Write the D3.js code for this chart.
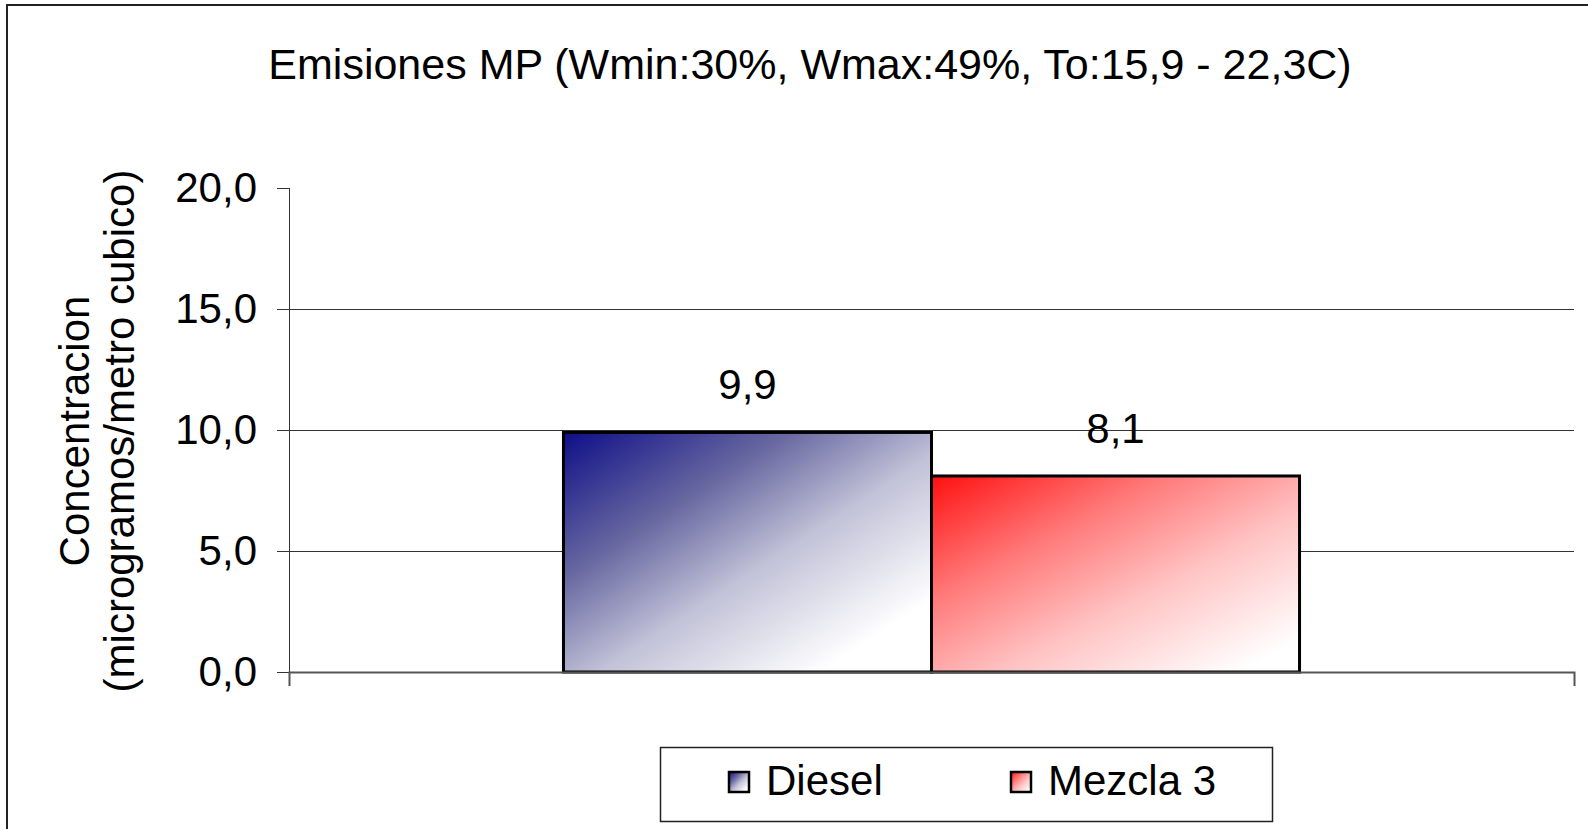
<!DOCTYPE html>
<html>
<head>
<meta charset="utf-8">
<script src="https://cdn.jsdelivr.net/npm/d3@7"></script>
<style>
  html, body { margin: 0; padding: 0; background: #fff; }
  svg { display: block; font-family: "Liberation Sans", Arial, sans-serif; }
</style>
</head>
<body>
<svg id="chart" width="1588" height="829"></svg>
<script>
// chart data
let categories = ["MP"];
let seriesNames = ["Diesel", "Mezcla 3"];
let seriesValues = [9.9, 8.1];
let yTicks = [0, 5, 10, 15, 20];
let title = "Emisiones MP (Wmin:30%, Wmax:49%, To:15,9 - 22,3C)";
let yLabel = ["Concentracion", "(microgramos/metro cubico)"];

let svg = d3.select("#chart");
let fmt = v => d3.format(".1f")(v).replace(".", ",");

// plot area
let plotL = 289, plotR = 1574, plotT = 188, plotB = 672;

let x = d3.scaleBand()
  .domain(categories)
  .range([plotL, plotR])
  .paddingInner(0.2716)
  .paddingOuter(0.2716);

let xs = d3.scaleBand()
  .domain(seriesNames)
  .range([0, x.bandwidth()]);

let y = d3.scaleLinear()
  .domain([0, 20])
  .range([plotB, plotT]);

// gradients (diagonal, dark corner top-left fading to white)
let defs = svg.append("defs");
let grads = [
  ["gDiesel", [[0, "#0e0e88"], [0.3, "#6666a0"], [0.55, "#c2c2d8"], [0.85, "#ffffff"], [1, "#ffffff"]]],
  ["gMezcla", [[0, "#ff1010"], [0.32, "#ff7a7a"], [0.6, "#ffc4c4"], [0.92, "#ffffff"], [1, "#ffffff"]]]
];
grads.forEach(function(g) {
  let lg = defs.append("linearGradient")
    .attr("id", g[0])
    .attr("x1", 0).attr("y1", 0).attr("x2", 1).attr("y2", 1);
  g[1].forEach(function(s) {
    lg.append("stop").attr("offset", s[0]).attr("stop-color", s[1]);
  });
});
let fills = ["url(#gDiesel)", "url(#gMezcla)"];

// outer frame
svg.append("rect")
  .attr("x", 7).attr("y", 5)
  .attr("width", 1600).attr("height", 840)
  .attr("fill", "none")
  .attr("stroke", "#222")
  .attr("stroke-width", 2);

// title
svg.append("text")
  .attr("x", 810).attr("y", 79)
  .attr("text-anchor", "middle")
  .attr("font-size", 43)
  .text(title);

// gridlines
svg.append("g")
  .selectAll("line")
  .data(yTicks.filter(t => t > 0 && t < 20))
  .enter()
  .append("line")
  .attr("x1", plotL).attr("x2", plotR)
  .attr("y1", t => Math.round(y(t)) + 0.5)
  .attr("y2", t => Math.round(y(t)) + 0.5)
  .attr("stroke", "#333")
  .attr("stroke-width", 1);

// bars
let data = seriesNames.map((s, i) => ({ name: s, value: seriesValues[i], fill: fills[i] }));

svg.append("g")
  .selectAll("rect")
  .data(data)
  .enter()
  .append("rect")
  .attr("x", d => x(categories[0]) + xs(d.name))
  .attr("y", d => y(d.value))
  .attr("width", xs.bandwidth())
  .attr("height", d => y(0) - y(d.value))
  .attr("fill", d => d.fill)
  .attr("stroke", "#000")
  .attr("stroke-width", 3);

// data labels
svg.append("g")
  .selectAll("text")
  .data(data)
  .enter()
  .append("text")
  .attr("x", d => x(categories[0]) + xs(d.name) + xs.bandwidth() / 2)
  .attr("y", d => y(d.value) - 33)
  .attr("text-anchor", "middle")
  .attr("font-size", 42)
  .text(d => fmt(d.value));

// y axis
let yAxis = svg.append("g")
  .attr("transform", `translate(${plotL},0)`)
  .call(d3.axisLeft(y).tickValues(yTicks).tickSize(12).tickPadding(20).tickFormat(fmt));
yAxis.select(".domain").remove();
yAxis.selectAll(".tick text").attr("font-size", 42).attr("font-family", "Liberation Sans, Arial, sans-serif").attr("fill", "#000");
yAxis.selectAll(".tick line").attr("stroke", "#333");
yAxis.append("line")
  .attr("x1", 0.5).attr("x2", 0.5)
  .attr("y1", plotT).attr("y2", plotB + 14)
  .attr("stroke", "#333");

// x axis
let xAxis = svg.append("g")
  .attr("transform", `translate(0,${plotB})`)
  .call(d3.axisBottom(x).tickSizeInner(0).tickSizeOuter(14).tickFormat(""));
xAxis.select(".domain").attr("stroke", "#555").attr("stroke-width", 2);

// y axis title
let yt = svg.append("text")
  .attr("transform", "translate(89,431) rotate(-90)")
  .attr("text-anchor", "middle")
  .attr("font-size", 42);
yt.append("tspan").attr("x", 0).attr("dy", "0em").text(yLabel[0]);
yt.append("tspan").attr("x", 0).attr("dy", "1.08em").text(yLabel[1]);

// legend
let lg = svg.append("g");
lg.append("rect")
  .attr("x", 660.5).attr("y", 747.5)
  .attr("width", 612).attr("height", 74)
  .attr("fill", "#fff")
  .attr("stroke", "#222")
  .attr("stroke-width", 1.5);

let legendX = d3.scalePoint()
  .domain(seriesNames)
  .range([729, 1011]);

let items = lg.selectAll("g.item")
  .data(data)
  .enter()
  .append("g")
  .attr("class", "item")
  .attr("transform", d => `translate(${legendX(d.name)},772)`);

items.append("rect")
  .attr("width", 20).attr("height", 20)
  .attr("fill", d => d.fill)
  .attr("stroke", "#000")
  .attr("stroke-width", 2.5);

items.append("text")
  .attr("x", 37).attr("y", 23)
  .attr("font-size", 42)
  .text(d => d.name);
</script>
</body>
</html>
